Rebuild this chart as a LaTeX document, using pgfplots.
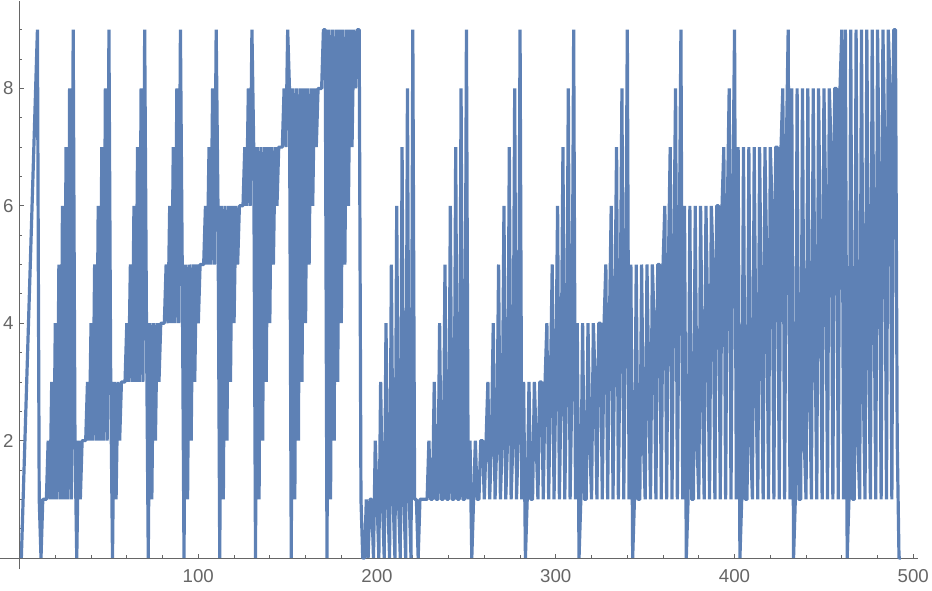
\documentclass[border=0pt]{standalone}
\usepackage{pgfplots}
\usepackage{fontspec}
\setmainfont{Liberation Sans}
\pgfplotsset{compat=1.18}
\definecolor{linecol}{RGB}{94,129,181}
\definecolor{axcol}{RGB}{102,102,102}
\begin{document}
\begin{tikzpicture}
\path[use as bounding box] (0pt,-15.75pt) rectangle (699pt,426.75pt);
\begin{axis}[
  at={(0pt,0pt)},anchor=south west,
  scale only axis,width=688.5pt,height=426pt,
  xmin=-10.94,xmax=502.63,ymin=-0.187,ymax=9.489,
  axis x line=middle,axis y line=middle,
  axis line style={-,draw=axcol,line width=0.75pt},
  tick align=inside,
  every tick/.style={draw=axcol,line width=0.6pt},
  major tick length=3.2pt,minor tick length=2pt,
  xtick={100,200,300,400,500},
  ytick={2,4,6,8},
  minor xtick={20,40,60,80,120,140,160,180,220,240,260,280,320,340,360,380,420,440,460,480},
  minor ytick={0.5,1,1.5,2.5,3,3.5,4.5,5,5.5,6.5,7,7.5,8.5,9,9.5},
  /pgf/number format/assume math mode=true,
  tick label style={font=\fontsize{14}{14}\selectfont,text=axcol},
  xticklabel style={anchor=north,yshift=-5pt},
  yticklabel style={anchor=east,xshift=-1pt},
  clip=false,
]
\addplot[color=linecol,line width=2.4pt,line join=bevel,line cap=butt,no markers] coordinates {
(1,0)(2,1)(3,2)(4,3)(5,4)(6,5)(7,6)(8,7)(9,8)(10,9)
(11,1)(12,0)(13,1)(14,1)(15,1)(16,2)(17,1)(18,3)(19,1)(20,4)(21,1)(22,5)(23,1)(24,6)(25,1)(26,7)(27,1)(28,8)(29,1)(30,9)
(31,2)(32,0)(33,2)(34,1)(35,2)(36,2)(37,2)(38,3)(39,2)(40,4)(41,2)(42,5)(43,2)(44,6)(45,2)(46,7)(47,2)(48,8)(49,2)(50,9)
(51,3)(52,0)(53,3)(54,1)(55,3)(56,2)(57,3)(58,3)(59,3)(60,4)(61,3)(62,5)(63,3)(64,6)(65,3)(66,7)(67,3)(68,8)(69,3)(70,9)
(71,4)(72,0)(73,4)(74,1)(75,4)(76,2)(77,4)(78,3)(79,4)(80,4)(81,4)(82,5)(83,4)(84,6)(85,4)(86,7)(87,4)(88,8)(89,4)(90,9)
(91,5)(92,0)(93,5)(94,1)(95,5)(96,2)(97,5)(98,3)(99,5)(100,4)(101,5)(102,5)(103,5)(104,6)(105,5)(106,7)(107,5)(108,8)(109,5)(110,9)
(111,6)(112,0)(113,6)(114,1)(115,6)(116,2)(117,6)(118,3)(119,6)(120,4)(121,6)(122,5)(123,6)(124,6)(125,6)(126,7)(127,6)(128,8)(129,6)(130,9)
(131,7)(132,0)(133,7)(134,1)(135,7)(136,2)(137,7)(138,3)(139,7)(140,4)(141,7)(142,5)(143,7)(144,6)(145,7)(146,7)(147,7)(148,8)(149,7)(150,9)
(151,8)(152,0)(153,8)(154,1)(155,8)(156,2)(157,8)(158,3)(159,8)(160,4)(161,8)(162,5)(163,8)(164,6)(165,8)(166,7)(167,8)(168,8)(169,8)(170,9)
(171,9)(172,0)(173,9)(174,1)(175,9)(176,2)(177,9)(178,3)(179,9)(180,4)(181,9)(182,5)(183,9)(184,6)(185,9)(186,7)(187,9)(188,8)(189,9)(190,9)
(191,1)(192,0)(193,0)(194,1)(195,0)(196,1)(197,1)(198,0)(199,2)(200,1)(201,0)(202,3)(203,1)(204,0)(205,4)(206,1)(207,0)(208,5)(209,1)(210,0)(211,6)(212,1)(213,0)(214,7)(215,1)(216,0)(217,8)(218,1)(219,0)(220,9)
(221,1)(222,1)(223,0)(224,1)(225,1)(226,1)(227,1)(228,1)(229,2)(230,1)(231,1)(232,3)(233,1)(234,1)(235,4)(236,1)(237,1)(238,5)(239,1)(240,1)(241,6)(242,1)(243,1)(244,7)(245,1)(246,1)(247,8)(248,1)(249,1)(250,9)
(251,1)(252,2)(253,0)(254,1)(255,2)(256,1)(257,1)(258,2)(259,2)(260,1)(261,2)(262,3)(263,1)(264,2)(265,4)(266,1)(267,2)(268,5)(269,1)(270,2)(271,6)(272,1)(273,2)(274,7)(275,1)(276,2)(277,8)(278,1)(279,2)(280,9)
(281,1)(282,3)(283,0)(284,1)(285,3)(286,1)(287,1)(288,3)(289,2)(290,1)(291,3)(292,3)(293,1)(294,3)(295,4)(296,1)(297,3)(298,5)(299,1)(300,3)(301,6)(302,1)(303,3)(304,7)(305,1)(306,3)(307,8)(308,1)(309,3)(310,9)
(311,1)(312,4)(313,0)(314,1)(315,4)(316,1)(317,1)(318,4)(319,2)(320,1)(321,4)(322,3)(323,1)(324,4)(325,4)(326,1)(327,4)(328,5)(329,1)(330,4)(331,6)(332,1)(333,4)(334,7)(335,1)(336,4)(337,8)(338,1)(339,4)(340,9)
(341,1)(342,5)(343,0)(344,1)(345,5)(346,1)(347,1)(348,5)(349,2)(350,1)(351,5)(352,3)(353,1)(354,5)(355,4)(356,1)(357,5)(358,5)(359,1)(360,5)(361,6)(362,1)(363,5)(364,7)(365,1)(366,5)(367,8)(368,1)(369,5)(370,9)
(371,1)(372,6)(373,0)(374,1)(375,6)(376,1)(377,1)(378,6)(379,2)(380,1)(381,6)(382,3)(383,1)(384,6)(385,4)(386,1)(387,6)(388,5)(389,1)(390,6)(391,6)(392,1)(393,6)(394,7)(395,1)(396,6)(397,8)(398,1)(399,6)(400,9)
(401,1)(402,7)(403,0)(404,1)(405,7)(406,1)(407,1)(408,7)(409,2)(410,1)(411,7)(412,3)(413,1)(414,7)(415,4)(416,1)(417,7)(418,5)(419,1)(420,7)(421,6)(422,1)(423,7)(424,7)(425,1)(426,7)(427,8)(428,1)(429,7)(430,9)
(431,1)(432,8)(433,0)(434,1)(435,8)(436,1)(437,1)(438,8)(439,2)(440,1)(441,8)(442,3)(443,1)(444,8)(445,4)(446,1)(447,8)(448,5)(449,1)(450,8)(451,6)(452,1)(453,8)(454,7)(455,1)(456,8)(457,8)(458,1)(459,8)(460,9)
(461,1)(462,9)(463,0)(464,1)(465,9)(466,1)(467,1)(468,9)(469,2)(470,1)(471,9)(472,3)(473,1)(474,9)(475,4)(476,1)(477,9)(478,5)(479,1)(480,9)(481,6)(482,1)(483,9)(484,7)(485,1)(486,9)(487,8)(488,1)(489,9)(490,9)
(491,2)(492,0)(493,0)
};
\end{axis}
\end{tikzpicture}
\end{document}
